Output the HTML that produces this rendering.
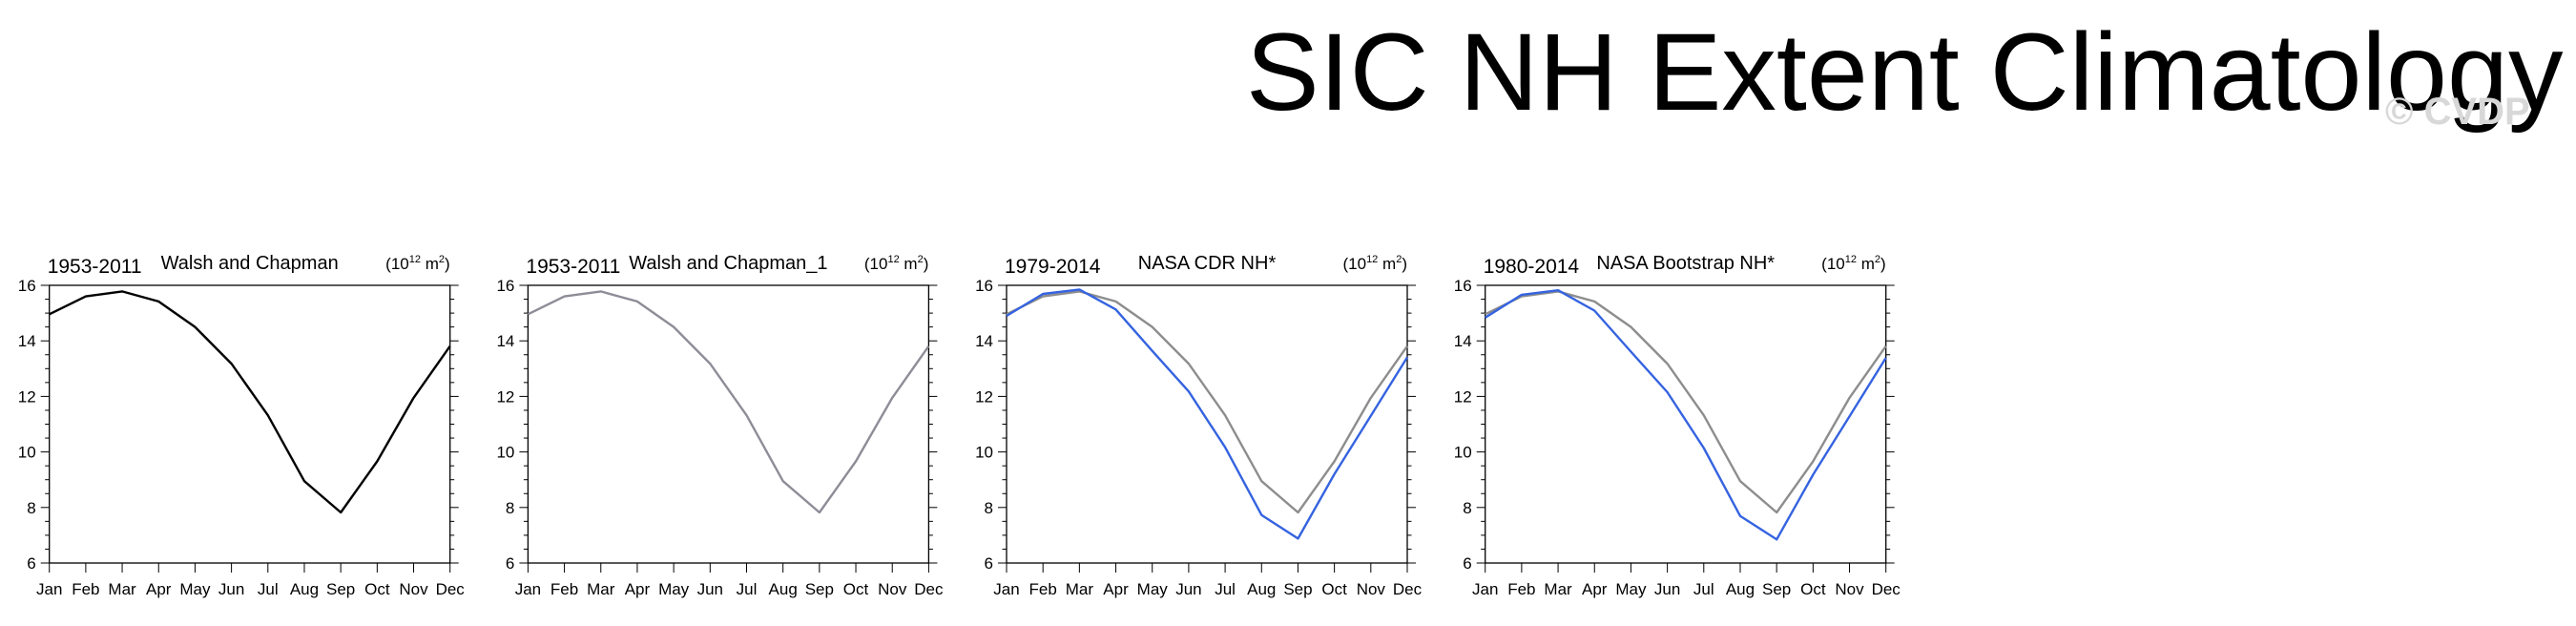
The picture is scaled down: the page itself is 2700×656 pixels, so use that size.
<!DOCTYPE html>
<html><head><meta charset="utf-8"><style>
html,body{margin:0;padding:0;background:#fff;}
svg{display:block;font-family:"Liberation Sans",sans-serif;}
</style></head><body>
<svg id="chart" width="2700" height="656" viewBox="0 0 2700 656" xmlns="http://www.w3.org/2000/svg">
<text x="1306" y="115" font-size="115" fill="#000">SIC NH Extent Climatology</text>
<text x="2500" y="130" font-size="40" font-weight="bold" fill="#d8d8d8">© CVDP</text>
<g id="panels"></g>
</svg>
<script>
const months = ["Jan","Feb","Mar","Apr","May","Jun","Jul","Aug","Sep","Oct","Nov","Dec"];
const yTicks = [6,8,10,12,14,16];
const walshValues = [14.96,15.6,15.78,15.42,14.5,13.18,11.32,8.95,7.82,9.66,11.95,13.81];
const cdrValues = [14.9,15.69,15.85,15.13,13.64,12.18,10.17,7.73,6.88,9.2,11.3,13.41];
const bootstrapValues = [14.84,15.66,15.82,15.09,13.61,12.15,10.14,7.69,6.85,9.18,11.28,13.39];
const panelYears = ["1953-2011","1953-2011","1979-2014","1980-2014"];
const panelTitles = ["Walsh and Chapman","Walsh and Chapman_1","NASA CDR NH*","NASA Bootstrap NH*"];

const NS="http://www.w3.org/2000/svg";
const root=document.getElementById('panels');
function mk(tag,attrs,parent,text){const e=document.createElementNS(NS,tag);for(const k in attrs)e.setAttribute(k,attrs[k]);if(text!==undefined)e.textContent=text;parent.appendChild(e);return e;}
const W=420,H=291,TOP=299,YMIN=6,YMAX=16;
const lefts=[51.7,553.4,1055,1556.7];
const panelSeries=[
  [{v:walshValues,c:"#000"}],
  [{v:walshValues,c:"#8d8d98"}],
  [{v:walshValues,c:"#8d8d8d"},{v:cdrValues,c:"#3563e0"}],
  [{v:walshValues,c:"#8d8d8d"},{v:bootstrapValues,c:"#3563e0"}]
];
for(let p=0;p<4;p++){
  const L=lefts[p];
  const g=mk('g',{},root);
  
  
  const xs=i=>L+i*W/(months.length-1);
  const ys=v=>TOP+H*(YMAX-v)/(YMAX-YMIN);
  const fr=mk('rect',{x:L,y:TOP,width:W,height:H,fill:'none',stroke:'#000','stroke-width':1.3},g);
  
  
  // y ticks
  for(let v=YMIN;v<=YMAX+0.001;v+=0.5){
    const major=Math.abs(v-Math.round(v/2)*2)<0.01;
    const len=major?9:4.5;
    mk('line',{x1:L-len,x2:L,y1:ys(v),y2:ys(v),stroke:'#000','stroke-width':1},g);
    mk('line',{x1:L+W,x2:L+W+len,y1:ys(v),y2:ys(v),stroke:'#000','stroke-width':1},g);
  }
  yTicks.forEach(t=>{
    const tl=mk('text',{x:L-14,y:ys(t)+6,'font-size':17,'text-anchor':'end'},g,String(t));
    
    
  });
  months.forEach((m,i)=>{
    mk('line',{x1:xs(i),x2:xs(i),y1:TOP+H,y2:TOP+H+10,stroke:'#000','stroke-width':1},g);
    const ml=mk('text',{x:xs(i),y:TOP+H+33,'font-size':17,'text-anchor':'middle'},g,m);
    
    
  });
  panelSeries[p].forEach((s,k)=>{
    const pts=s.v.map((v,i)=>xs(i).toFixed(1)+','+ys(v).toFixed(1)).join(' ');
    const pl=mk('polyline',{points:pts,fill:'none',stroke:s.c,'stroke-width':2.4,'stroke-linejoin':'round'},g);
    
    
  });
  const yr=mk('text',{x:L-2,y:TOP-13,'font-size':21},g,panelYears[p]);
  
  
  const ti=mk('text',{x:L+W/2,y:TOP-17,'font-size':20,'text-anchor':'middle'},g,panelTitles[p]);
  
  
  const un=mk('text',{x:L+W,y:TOP-17,'font-size':17,'text-anchor':'end'},g);
  
  
  mk('tspan',{},un,'(10');
  mk('tspan',{'font-size':11,dy:-7},un,'12');
  mk('tspan',{dy:7},un,' m');
  mk('tspan',{'font-size':11,dy:-7},un,'2');
  mk('tspan',{dy:7},un,')');
}
</script>
</body></html>
